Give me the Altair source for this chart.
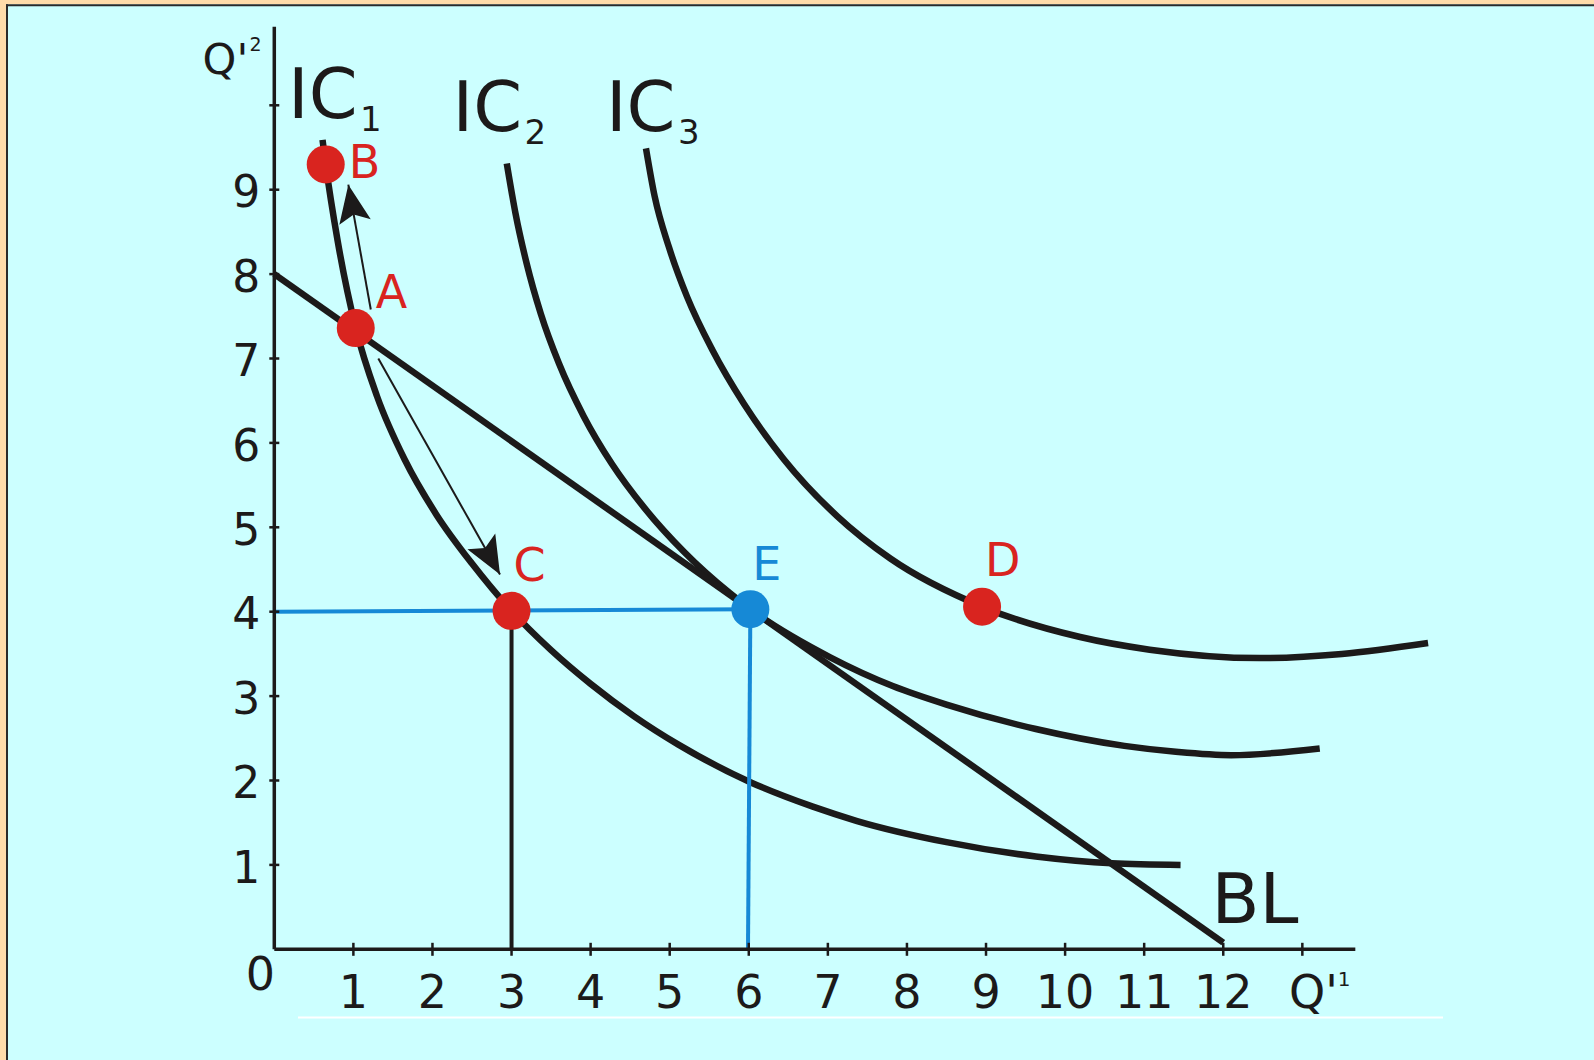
import math
import altair as alt
import pandas as pd

# ---------------- data ----------------
# Indifference curves from left to right
ic1_x = [0.61, 0.65, 0.80, 1.03, 1.30, 1.65, 2.05, 2.50, 3.00, 3.50, 4.00, 4.55, 5.11, 6.02, 6.81, 7.37, 8.50, 9.63, 10.59, 11.46]
ic1_y = [9.59, 9.30, 8.40, 7.36, 6.55, 5.80, 5.15, 4.57, 4.01, 3.545, 3.145, 2.76, 2.425, 1.98, 1.69, 1.52, 1.27, 1.10, 1.02, 1.00]

ic2_x = [2.94, 3.05, 3.19, 3.37, 3.60, 3.91, 4.27, 4.68, 5.18, 5.76, 6.02, 7.03, 7.82, 8.50, 9.63, 10.75, 11.40, 12.10, 13.22]
ic2_y = [9.31, 8.72, 8.13, 7.53, 6.94, 6.32, 5.75, 5.23, 4.71, 4.22, 4.03, 3.46, 3.12, 2.90, 2.61, 2.41, 2.34, 2.30, 2.38]

ic3_x = [4.70, 4.81, 4.99, 5.22, 5.54, 5.94, 6.44, 7.12, 7.79, 8.95, 10.19, 11.07, 12.46, 13.50, 14.59]
ic3_y = [9.49, 8.92, 8.32, 7.73, 7.10, 6.46, 5.81, 5.13, 4.63, 4.06, 3.70, 3.55, 3.45, 3.50, 3.63]

# Budget line
bl_x = [0.0, 12.0]
bl_y = [8.0, 0.08]

# Consumption bundles
pt_name = ["B", "A", "C", "E", "D"]
pt_x = [0.65, 1.03, 3.00, 6.02, 8.95]
pt_y = [9.30, 7.36, 4.01, 4.03, 4.06]

# Movement arrows along IC1 (tail -> tip)
arrow_x1 = [1.22, 1.315]
arrow_y1 = [7.58, 7.00]
arrow_x2 = [0.936, 2.854]
arrow_y2 = [9.06, 4.44]

# Axes
x_ticks = list(range(1, 14))
x_tick_labels = [str(i) for i in range(1, 13)]
y_ticks = list(range(1, 11))
y_tick_labels = [str(i) for i in range(1, 10)]
x_axis_end = 13.67
y_axis_end = 10.93

# Curve names and their label anchors
ic_names = ["IC", "IC", "IC"]
ic_subs = ["1", "2", "3"]
ic_label_x = [0.11, 2.19, 4.13]
ic_label_y = [9.85, 9.69, 9.69]
bl_label = "BL"
bl_label_x = 11.85
bl_label_y = 0.31

# ---------------- geometry & style ----------------
W, H = 1594, 1060
ORIGIN_X, ORIGIN_Y = 274.3, 949.3     # pixel position of (0, 0)
UX, UY = 79.08, 84.4                  # pixels per unit
X_DOM = [-ORIGIN_X / UX, (W - ORIGIN_X) / UX]
Y_DOM = [-(H - ORIGIN_Y) / UY, ORIGIN_Y / UY]

BG = "#CCFFFF"
PEACH = "#FFDCAA"
INK = "#1C1A1A"
RED = "#D9241F"
BLUE = "#1689D6"
FONT = "DejaVu Sans"
CURVE_W = 6.5

xs = alt.Scale(domain=X_DOM, nice=False, zero=False)
ys = alt.Scale(domain=Y_DOM, nice=False, zero=False)


def X(field):
    return alt.X(f"{field}:Q", scale=xs, axis=None)


def Y(field):
    return alt.Y(f"{field}:Q", scale=ys, axis=None)


def X2(field):
    return alt.X2(f"{field}:Q")


def Y2(field):
    return alt.Y2(f"{field}:Q")


one_row = alt.Data(values=[{}])

# ---------------- frame ----------------
frame = [
    alt.Chart(one_row).mark_rect(color=PEACH).encode(
        x=alt.value(0), x2=alt.value(6), y=alt.value(0), y2=alt.value(H)),
    alt.Chart(one_row).mark_rect(color=PEACH).encode(
        x=alt.value(0), x2=alt.value(W), y=alt.value(0), y2=alt.value(4.3)),
    alt.Chart(one_row).mark_rect(color="#2a2a2a").encode(
        x=alt.value(6), x2=alt.value(8), y=alt.value(4.3), y2=alt.value(H)),
    alt.Chart(one_row).mark_rect(color="#2a2a2a").encode(
        x=alt.value(6), x2=alt.value(W), y=alt.value(4.3), y2=alt.value(6.3)),
    alt.Chart(one_row).mark_rule(color="#FFFFFF", strokeWidth=2).encode(
        x=alt.value(298), x2=alt.value(1443), y=alt.value(1017.5)),
]

# ---------------- axes ----------------
axis_df = pd.DataFrame({"x": [0, 0], "y": [0, 0], "x2": [x_axis_end, 0], "y2": [0, y_axis_end]})
axes = alt.Chart(axis_df).mark_rule(color=INK, strokeWidth=3.5).encode(
    x=X("x"), y=Y("y"), x2=X2("x2"), y2=Y2("y2"))

xt_df = pd.DataFrame({"x": x_ticks, "y": [0] * len(x_ticks)})
x_tick_marks = alt.Chart(xt_df).mark_tick(
    orient="vertical", size=13, thickness=2.5, color=INK, opacity=1).encode(x=X("x"), y=Y("y"))

yt_df = pd.DataFrame({"x": [0] * len(y_ticks), "y": y_ticks})
y_tick_marks = alt.Chart(yt_df).mark_tick(
    orient="horizontal", size=10, thickness=2.5, color=INK, opacity=1).encode(x=X("x"), y=Y("y"))

xl_df = pd.DataFrame({"x": x_ticks[:len(x_tick_labels)], "y": [0] * len(x_tick_labels), "t": x_tick_labels})
x_labels = alt.Chart(xl_df).mark_text(
    font=FONT, fontSize=46, color=INK, align="center", baseline="alphabetic", dy=58.7).encode(
    x=X("x"), y=Y("y"), text="t:N")

yl_df = pd.DataFrame({"x": [0] * len(y_tick_labels), "y": y_ticks[:len(y_tick_labels)], "t": y_tick_labels})
y_labels = alt.Chart(yl_df).mark_text(
    font=FONT, fontSize=44, color=INK, align="right", baseline="alphabetic", dx=-14, dy=17.6).encode(
    x=X("x"), y=Y("y"), text="t:N")

origin_df = pd.DataFrame({"x": [0], "y": [0], "t": ["0"]})
origin_label = alt.Chart(origin_df).mark_text(
    font=FONT, fontSize=46, color=INK, align="center", baseline="alphabetic", dx=-13.8, dy=40.7).encode(
    x=X("x"), y=Y("y"), text="t:N")

# axis titles: Q'1 at the last x tick, Q'2 beside the top of the y axis
qx_df = pd.DataFrame({"x": [x_ticks[-1]], "y": [0], "t": ["Q'"], "s": ["1"]})
qx_main = alt.Chart(qx_df).mark_text(
    font=FONT, fontSize=46, color=INK, align="left", baseline="alphabetic", dx=-13.4, dy=58.7).encode(
    x=X("x"), y=Y("y"), text="t:N")
qx_sup = alt.Chart(qx_df).mark_text(
    font=FONT, fontSize=20, color=INK, align="left", baseline="alphabetic", dx=35.4, dy=36.4).encode(
    x=X("x"), y=Y("y"), text="s:N")

qy_df = pd.DataFrame({"x": [0], "y": [y_axis_end], "t": ["Q'"], "s": ["2"]})
qy_main = alt.Chart(qy_df).mark_text(
    font=FONT, fontSize=43, color=INK, align="left", baseline="alphabetic", dx=-71.7, dy=47.2).encode(
    x=X("x"), y=Y("y"), text="t:N")
qy_sup = alt.Chart(qy_df).mark_text(
    font=FONT, fontSize=19, color=INK, align="left", baseline="alphabetic", dx=-24.8, dy=24.2).encode(
    x=X("x"), y=Y("y"), text="s:N")

# ---------------- curves ----------------
rows = []
for name, cx, cy in (("IC1", ic1_x, ic1_y), ("IC2", ic2_x, ic2_y), ("IC3", ic3_x, ic3_y)):
    for i, (a, b) in enumerate(zip(cx, cy)):
        rows.append({"curve": name, "seq": i, "x": a, "y": b})
curve_df = pd.DataFrame(rows)
curves = alt.Chart(curve_df).mark_line(
    color=INK, strokeWidth=CURVE_W, interpolate="monotone", strokeCap="butt").encode(
    x=X("x"), y=Y("y"), detail="curve:N", order="seq:Q")

bl_df = pd.DataFrame({"x": bl_x, "y": bl_y})
budget = alt.Chart(bl_df).mark_line(color=INK, strokeWidth=CURVE_W, strokeCap="butt").encode(
    x=X("x"), y=Y("y"))

# ---------------- guide lines to the axes ----------------
idx = {n: i for i, n in enumerate(pt_name)}
c_i, e_i = idx["C"], idx["E"]
black_guide_df = pd.DataFrame({"x": [pt_x[c_i]], "y": [pt_y[c_i]], "x2": [pt_x[c_i]], "y2": [0]})
black_guide = alt.Chart(black_guide_df).mark_rule(color=INK, strokeWidth=4).encode(
    x=X("x"), y=Y("y"), x2=X2("x2"), y2=Y2("y2"))

blue_guide_df = pd.DataFrame({
    "x": [0, pt_x[e_i]], "y": [pt_y[c_i] - 0.01, pt_y[e_i]],
    "x2": [pt_x[e_i], pt_x[e_i] - 0.03], "y2": [pt_y[e_i], 0]})
blue_guide = alt.Chart(blue_guide_df).mark_rule(color=BLUE, strokeWidth=4).encode(
    x=X("x"), y=Y("y"), x2=X2("x2"), y2=Y2("y2"))

# ---------------- arrows ----------------
def screen_angle(x1, y1, x2, y2):
    dx = (x2 - x1) * UX
    dy = -(y2 - y1) * UY
    return math.degrees(math.atan2(dx, -dy)) % 360


arrow_df = pd.DataFrame({
    "x": arrow_x1, "y": arrow_y1, "x2": arrow_x2, "y2": arrow_y2,
    "angle": [screen_angle(a, b, c, d) for a, b, c, d in zip(arrow_x1, arrow_y1, arrow_x2, arrow_y2)],
})
arrow_shafts = alt.Chart(arrow_df).mark_rule(color=INK, strokeWidth=2).encode(
    x=X("x"), y=Y("y"), x2=X2("x2"), y2=Y2("y2"))
HEAD = "M0,0L0.42,1L0,0.8L-0.42,1Z"
arrow_heads = alt.Chart(arrow_df).mark_point(
    shape=HEAD, filled=True, color=INK, opacity=1, size=5776, strokeWidth=0).encode(
    x=X("x2"), y=Y("y2"), angle=alt.Angle("angle:Q", scale=None))

# ---------------- bundles ----------------
pt_colors = [BLUE if n == "E" else RED for n in pt_name]
pt_df = pd.DataFrame({"name": pt_name, "x": pt_x, "y": pt_y})
color_enc = alt.Color("name:N", scale=alt.Scale(domain=pt_name, range=pt_colors), legend=None)
points = alt.Chart(pt_df).mark_point(shape="circle", filled=True, opacity=1, size=1444, strokeWidth=0).encode(
    x=X("x"), y=Y("y"), color=color_enc)

label_offsets = {"B": (23, 14), "A": (20, -20), "C": (2, -29.5), "E": (2, -29.5), "D": (3, -30.3)}
point_labels = []
for n, (ddx, ddy) in label_offsets.items():
    point_labels.append(
        alt.Chart(pt_df).transform_filter(alt.datum.name == n).mark_text(
            font=FONT, fontSize=46, align="left", baseline="alphabetic", dx=ddx, dy=ddy).encode(
            x=X("x"), y=Y("y"), text="name:N", color=color_enc))

# ---------------- curve labels ----------------
ic_df = pd.DataFrame({"x": ic_label_x, "y": ic_label_y, "t": ic_names, "s": ic_subs})
ic_main = alt.Chart(ic_df).mark_text(
    font=FONT, fontSize=70, color=INK, align="left", baseline="alphabetic", dx=5).encode(
    x=X("x"), y=Y("y"), text="t:N")
ic_sub = alt.Chart(ic_df).mark_text(
    font=FONT, fontSize=34, color=INK, align="left", baseline="alphabetic", dx=77, dy=13).encode(
    x=X("x"), y=Y("y"), text="s:N")

bl_lab_df = pd.DataFrame({"x": [bl_label_x], "y": [bl_label_y], "t": [bl_label]})
bl_text = alt.Chart(bl_lab_df).mark_text(
    font=FONT, fontSize=70, color=INK, align="left", baseline="alphabetic").encode(
    x=X("x"), y=Y("y"), text="t:N")

chart = alt.layer(
    *frame,
    curves, budget, black_guide, blue_guide,
    axes, x_tick_marks, y_tick_marks,
    arrow_shafts, arrow_heads,
    points, *point_labels,
    x_labels, y_labels, origin_label, qx_main, qx_sup, qy_main, qy_sup,
    ic_main, ic_sub, bl_text,
).properties(
    width=W, height=H, background=BG, padding=0,
    autosize=alt.AutoSizeParams(type="none"),
).configure_view(stroke=None)

chart.save("out.html", embed_options={"renderer": "svg", "actions": False})
